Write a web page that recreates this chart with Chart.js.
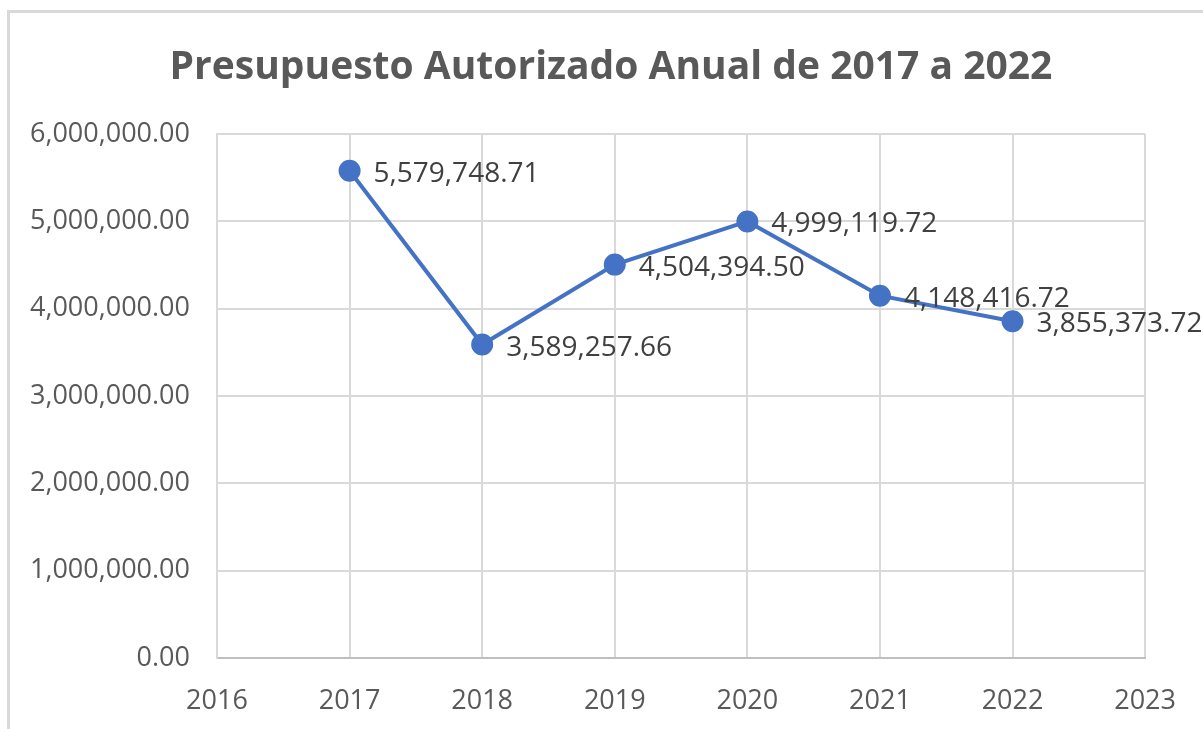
<!DOCTYPE html>
<html>
<head>
<meta charset="utf-8">
<script src="https://cdn.jsdelivr.net/npm/chart.js@4.4.0/dist/chart.umd.min.js"></script>
<style>
  body { margin: 0; background: #fff; }
</style>
</head>
<body>
<canvas id="grafico" width="1203" height="729"></canvas>
<script>
const titulo = "Presupuesto Autorizado Anual de 2017 a 2022";
const anios = [2017, 2018, 2019, 2020, 2021, 2022];
const presupuesto = [5579748.71, 3589257.66, 4504394.50, 4999119.72, 4148416.72, 3855373.72];
const etiquetas = ["5,579,748.71", "3,589,257.66", "4,504,394.50", "4,999,119.72", "4,148,416.72", "3,855,373.72"];
const ejeX = { min: 2016, max: 2023, paso: 1 };
const ejeY = { min: 0, max: 6000000, paso: 1000000 };

const fuente = "'Open Sans', sans-serif";

const formatoNumero = (v) =>
    v.toLocaleString("en-US", { minimumFractionDigits: 2, maximumFractionDigits: 2 });

// marco y titulo como en Excel
const marcoYTitulo = {
    id: "marcoYTitulo",
    beforeDraw(chart) {
        const ctx = chart.ctx;
        ctx.save();
        ctx.fillStyle = "#ffffff";
        ctx.fillRect(0, 0, chart.width, chart.height);
        ctx.strokeStyle = "#d9d9d9";
        ctx.lineWidth = 3;
        ctx.strokeRect(8.5, 11.5, 1300, 800);
        ctx.fillStyle = "#595959";
        ctx.font = "bold 39px " + fuente;
        ctx.textAlign = "center";
        ctx.textBaseline = "middle";
        ctx.fillText(titulo, 611, 68);
        ctx.restore();
    },
};

// etiquetas de datos a la derecha de cada punto
const etiquetasDatos = {
    id: "etiquetasDatos",
    afterDatasetsDraw(chart) {
        const ctx = chart.ctx;
        const meta = chart.getDatasetMeta(0);
        ctx.save();
        ctx.fillStyle = "#404040";
        ctx.font = "28px " + fuente;
        ctx.textAlign = "left";
        ctx.textBaseline = "middle";
        meta.data.forEach((punto, i) => {
            ctx.fillText(etiquetas[i], punto.x + 24, punto.y + 3);
        });
        ctx.restore();
    },
};

const dataGrafico = {
    datasets: [
        {
            label: "Presupuesto",
            data: anios.map((a, i) => ({ x: a, y: presupuesto[i] })),
            borderColor: "#4472c4",
            backgroundColor: "#4472c4",
            borderWidth: 4,
            pointRadius: 9,
            pointHoverRadius: 9,
            tension: 0,
        },
    ],
};

const configGrafico = {
    type: "line",
    data: dataGrafico,
    plugins: [marcoYTitulo, etiquetasDatos],
    options: {
        responsive: false,
        animation: false,
        layout: {
            padding: { top: 134, right: 56, bottom: 0, left: 0 },
        },
        plugins: {
            legend: { display: false },
            title: { display: false },
            tooltip: { enabled: false },
        },
        scales: {
            x: {
                type: "linear",
                min: ejeX.min,
                max: ejeX.max,
                afterFit: (escala) => { escala.height = 71; },
                ticks: {
                    stepSize: ejeX.paso,
                    color: "#595959",
                    padding: 27,
                    font: { size: 27, family: fuente },
                    callback: (v) => String(v),
                },
                grid: { color: "#d9d9d9", lineWidth: 2, drawTicks: false },
                border: { color: "#bfbfbf", width: 2 },
            },
            y: {
                min: ejeY.min,
                max: ejeY.max,
                afterFit: (escala) => { escala.width = 217; },
                ticks: {
                    stepSize: ejeY.paso,
                    color: "#595959",
                    padding: 27,
                    font: { size: 27, family: fuente },
                    callback: (v) => formatoNumero(v),
                },
                grid: { color: "#d9d9d9", lineWidth: 2, drawTicks: false },
                border: { color: "#d9d9d9", width: 2 },
            },
        },
    },
};

const grafico = new Chart(document.getElementById("grafico"), configGrafico);
</script>
</body>
</html>
